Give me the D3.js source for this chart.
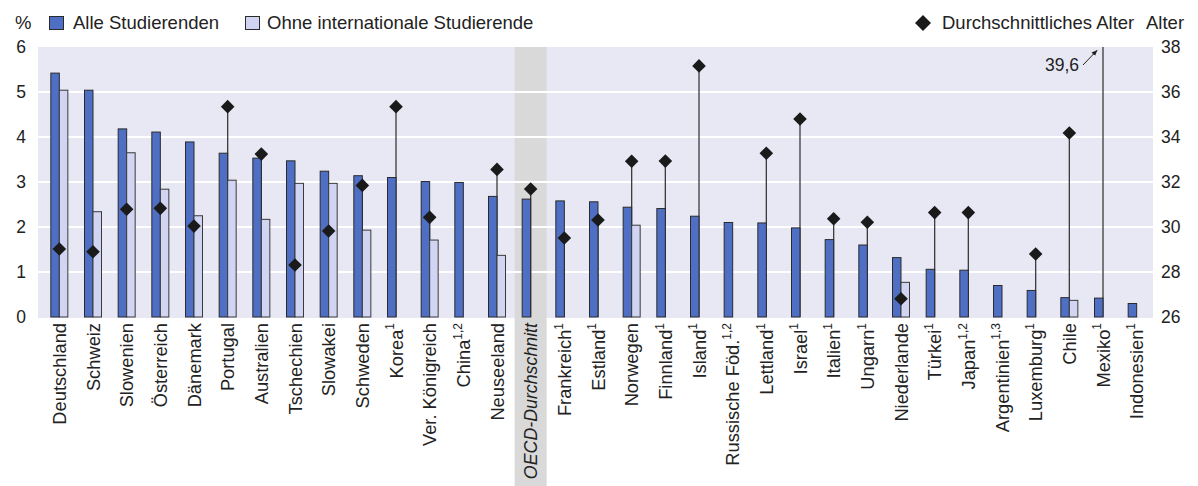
<!DOCTYPE html>
<html><head><meta charset="utf-8">
<script src="https://cdn.jsdelivr.net/npm/d3@7"></script>
<style>
body{margin:0;background:#fff;}
svg{display:block;font-family:"Liberation Sans",Arial,sans-serif;}
</style></head>
<body><svg id="chart" width="1198" height="486"></svg>
<script>
const categories = ["Deutschland","Schweiz","Slowenien","Österreich","Dänemark","Portugal","Australien","Tschechien","Slowakei","Schweden","Korea","Ver. Königreich","China","Neuseeland","OECD-Durchschnitt","Frankreich","Estland","Norwegen","Finnland","Island","Russische Föd.","Lettland","Israel","Italien","Ungarn","Niederlande","Türkei","Japan","Argentinien","Luxemburg","Chile","Mexiko","Indonesien"];
const footnotes = ["","","","","","","","","","","1","","1,2","","","1","1","","1","1","1,2","1","1","1","1","","1","1,2","1,3","1","","1","1"];
const allStudents = [5.42,5.04,4.18,4.11,3.89,3.64,3.53,3.47,3.24,3.14,3.10,3.01,2.99,2.68,2.62,2.58,2.56,2.44,2.41,2.24,2.10,2.09,1.98,1.72,1.60,1.32,1.06,1.04,0.70,0.59,0.43,0.42,0.30];
const withoutIntl = [5.04,2.34,3.65,2.84,2.25,3.04,2.17,2.97,2.97,1.93,null,1.71,null,1.37,null,null,null,2.04,null,null,null,null,null,null,null,0.77,null,null,null,null,0.37,null,null];
const avgAge = [29.02,28.9,30.79,30.83,30.04,35.35,33.24,28.31,29.82,31.85,35.35,30.43,null,32.56,31.69,29.51,30.31,32.92,32.93,37.16,null,33.28,34.8,30.37,30.21,26.81,30.64,30.64,null,28.8,34.18,39.6,null];
const leftTicks = [0,1,2,3,4,5,6];
const rightTicks = [26,28,30,32,34,36,38];
const highlight = "OECD-Durchschnitt";

const C = {blue:"#4f6fc4", light:"#d1d5f1", bg:"#e8e8f5", band:"#d9d9d9", ink:"#222"};
const FS = 18.3;
const svg = d3.select("#chart");
const plot = {l:38, r:1153, t:47, b:318};
const x = d3.scaleBand().domain(categories).range([42.5,1153.5]);
const y = d3.scaleLinear().domain([0,6]).range([317,47]);
const yR = d3.scaleLinear().domain([26,38]).range([317,47]);
const cx = c => x(c) + x.bandwidth()/2;
const bw = 8.5;

svg.append("rect").attr("x",plot.l).attr("y",plot.t).attr("width",plot.r-plot.l).attr("height",plot.b-plot.t).attr("fill",C.bg);
svg.append("rect").attr("x",cx(highlight)-16).attr("y",plot.t).attr("width",32).attr("height",486-plot.t).attr("fill",C.band);

svg.append("g").selectAll("line").data(leftTicks.filter(d=>d>0 && d<6)).join("line")
  .attr("x1",plot.l).attr("x2",plot.r).attr("y1",d=>y(d)).attr("y2",d=>y(d))
  .attr("stroke","#fff").attr("stroke-width",2);

const data = categories.map((c,i)=>({c, a:allStudents[i], w:withoutIntl[i], age:avgAge[i]}));

svg.append("g").selectAll("line").data(data.filter(d=>d.age!=null)).join("line")
  .attr("x1",d=>cx(d.c)).attr("x2",d=>cx(d.c))
  .attr("y1",yR(26)).attr("y2",d=>yR(Math.min(d.age,38)))
  .attr("stroke","#3a3a3a").attr("stroke-width",1.3);

svg.append("g").selectAll("rect").data(data).join("rect")
  .attr("x",d=>cx(d.c)-bw).attr("width",bw)
  .attr("y",d=>y(d.a)).attr("height",d=>y(0)-y(d.a))
  .attr("fill",C.blue).attr("stroke","#2a2a2a").attr("stroke-width",1);
svg.append("g").selectAll("rect").data(data.filter(d=>d.w!=null)).join("rect")
  .attr("x",d=>cx(d.c)).attr("width",bw)
  .attr("y",d=>y(d.w)).attr("height",d=>y(0)-y(d.w))
  .attr("fill",C.light).attr("stroke","#3a3a3a").attr("stroke-width",1);

const diamond = r => `M0,${-r}L${r},0L0,${r}L${-r},0Z`;
svg.append("g").selectAll("path").data(data.filter(d=>d.age!=null && d.age<=38)).join("path")
  .attr("d",diamond(6.8)).attr("transform",d=>`translate(${cx(d.c)},${yR(d.age)})`)
  .attr("fill","#1a1a1a");

const mx = cx("Mexiko");
svg.append("defs").append("marker").attr("id","ah").attr("viewBox","0 0 10 10").attr("refX",9).attr("refY",5)
  .attr("markerWidth",6).attr("markerHeight",6).attr("orient","auto")
  .append("path").attr("d","M0,1L10,5L0,9Z").attr("fill","#222");
svg.append("line").attr("x1",mx-20).attr("y1",yR(37.2)).attr("x2",mx-6).attr("y2",yR(37.85))
  .attr("stroke","#222").attr("stroke-width",1).attr("marker-end","url(#ah)");
svg.append("text").attr("x",mx-24).attr("y",yR(36.95)).attr("text-anchor","end")
  .attr("font-size",17.5).attr("fill",C.ink).text(avgAge[categories.indexOf("Mexiko")].toString().replace(".",","));

svg.append("g").selectAll("text").data(leftTicks).join("text")
  .attr("x",26).attr("y",d=>y(d)).attr("dy","0.35em").attr("text-anchor","end")
  .attr("font-size",17.5).attr("fill",C.ink).text(d=>d);
svg.append("g").selectAll("text").data(rightTicks).join("text")
  .attr("x",1161).attr("y",d=>yR(d)).attr("dy","0.35em").attr("text-anchor","start")
  .attr("font-size",17.5).attr("fill",C.ink).text(d=>d);

const xl = svg.append("g").selectAll("text").data(data).join("text")
  .attr("transform",d=>`translate(${cx(d.c)},323) rotate(-90)`)
  .attr("dy","0.36em").attr("text-anchor","end").attr("font-size",d=>d.c===highlight?17.8:FS).attr("fill",C.ink)
  .style("font-style",d=>d.c===highlight?"italic":"normal");
xl.append("tspan").text(d=>d.c);
xl.append("tspan").attr("font-size",12).attr("dy","-0.7em").text((d,i)=>footnotes[i]);

const lg = svg.append("g").attr("font-size",18.5).attr("fill",C.ink);
lg.append("text").attr("x",15).attr("y",29).text("%");
lg.append("rect").attr("x",49.5).attr("y",16.5).attr("width",14).attr("height",13).attr("fill",C.blue).attr("stroke","#2a2a2a");
lg.append("text").attr("x",73).attr("y",29).text("Alle Studierenden");
lg.append("rect").attr("x",245.5).attr("y",16.5).attr("width",14).attr("height",13).attr("fill",C.light).attr("stroke","#2a2a2a");
lg.append("text").attr("x",267).attr("y",29).text("Ohne internationale Studierende");
lg.append("path").attr("d",diamond(8)).attr("transform","translate(923,23)").attr("fill","#1a1a1a");
lg.append("text").attr("x",942).attr("y",29).text("Durchschnittliches Alter");
lg.append("text").attr("x",1146).attr("y",29).text("Alter");
</script></body></html>
